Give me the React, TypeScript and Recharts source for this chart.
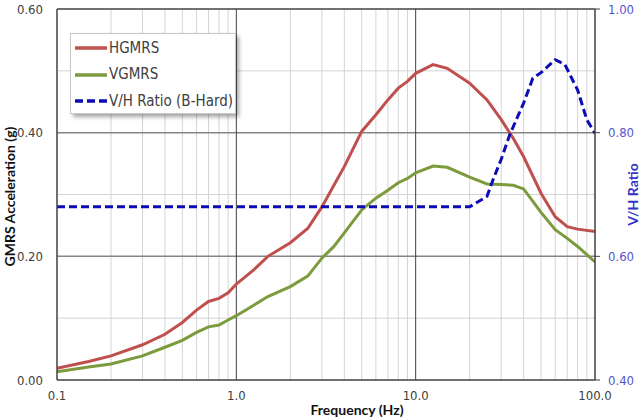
import React from 'react';
import { LineChart, Line, XAxis, YAxis, ReferenceLine, Legend, Label } from 'recharts';

// ---- data ----
const gmrsFreq = [0.1, 0.15, 0.2, 0.3, 0.4, 0.5, 0.6, 0.7, 0.8, 0.9, 1.0, 1.25, 1.5, 2.0, 2.5, 3.0, 3.5, 4.0, 5.0, 6.0, 7.0, 8.0, 9.0, 10, 12.5, 15, 20, 25, 30, 35, 40, 50, 60, 70, 80, 100];
const hgmrs = [0.019, 0.030, 0.039, 0.057, 0.074, 0.093, 0.113, 0.127, 0.132, 0.141, 0.155, 0.178, 0.200, 0.222, 0.245, 0.280, 0.315, 0.345, 0.402, 0.429, 0.453, 0.472, 0.483, 0.496, 0.510, 0.504, 0.480, 0.453, 0.421, 0.391, 0.361, 0.302, 0.264, 0.248, 0.244, 0.240];
const vgmrs = [0.0135, 0.021, 0.026, 0.039, 0.053, 0.064, 0.077, 0.086, 0.089, 0.097, 0.104, 0.121, 0.135, 0.151, 0.168, 0.197, 0.216, 0.238, 0.275, 0.294, 0.307, 0.319, 0.326, 0.335, 0.346, 0.344, 0.328, 0.317, 0.316, 0.315, 0.309, 0.271, 0.243, 0.229, 0.216, 0.191];
const ratioFreq = [0.1, 20, 25, 27, 30, 33.5, 40, 45, 50, 60, 68, 80, 90, 100];
const vhRatio = [0.68, 0.68, 0.697, 0.724, 0.757, 0.797, 0.848, 0.888, 0.897, 0.918, 0.910, 0.869, 0.821, 0.799];

const xTicks = [0.1, 1, 10, 100];
const xTickLabels = ['0.1', '1.0', '10.0', '100.0'];
const xMinor = [0.2, 0.3, 0.4, 0.5, 0.6, 0.7, 0.8, 0.9, 2, 3, 4, 5, 6, 7, 8, 9, 20, 30, 40, 50, 60, 70, 80, 90];
const yLeftTicks = [0, 0.2, 0.4, 0.6];
const yLeftMinor = [0.1, 0.3, 0.5];
const yRightTicks = [0.4, 0.6, 0.8, 1.0];

const seriesNames = ['HGMRS', 'VGMRS', 'V/H Ratio (B-Hard)'];
const seriesColors = ['#c0504d', '#7b9b3d', '#0c0cb4'];
const seriesDash = ['', '', '8 4'];

const hData = gmrsFreq.map((f, i) => ({ f, v: hgmrs[i] }));
const vData = gmrsFreq.map((f, i) => ({ f, v: vgmrs[i] }));
const rData = ratioFreq.map((f, i) => ({ f, v: vhRatio[i] }));

const tickFont = "'DejaVu Sans Condensed', 'DejaVu Sans', sans-serif";
const titleFont = "Lato, 'Open Sans', sans-serif";

const LegendBox = () => (
  <div
    style={{
      width: 166,
      height: 81,
      boxSizing: 'border-box',
      background: '#fff',
      border: '1px solid #c8c8c8',
      boxShadow: '3px 3px 4px rgba(0,0,0,0.35)',
      paddingTop: 1,
    }}
  >
    {seriesNames.map((name, i) => (
      <div key={name} style={{ display: 'flex', alignItems: 'center', height: 26.5 }}>
        <svg width={38} height={8} style={{ display: 'block' }}>
          <line x1={4} y1={4} x2={36} y2={4} stroke={seriesColors[i]} strokeWidth={3.5} strokeDasharray={seriesDash[i] || undefined} />
        </svg>
        <span style={{ fontFamily: tickFont, fontStretch: 'condensed', fontSize: 15, color: '#404040', lineHeight: '15px' }}>{name}</span>
      </div>
    ))}
  </div>
);

export default function App() {
  return (
    <div style={{ position: 'absolute', left: 0, top: 0, width: 644, height: 420, background: '#fff' }}>
      <LineChart width={644} height={420} margin={{ top: 9, right: 0, bottom: 0, left: 0 }}>
        <XAxis
          type="number"
          dataKey="f"
          scale="log"
          domain={[0.1, 100]}
          allowDataOverflow
          ticks={xTicks}
          tickFormatter={(v: number) => xTickLabels[xTicks.indexOf(v)] ?? String(v)}
          height={40}
          tickLine={false}
          tickSize={5}
          tickMargin={6}
          axisLine={{ stroke: '#404040', strokeWidth: 1.5 }}
          tick={{ fill: '#404040', fontSize: 13, fontFamily: tickFont, fontStretch: 'condensed' }}
        >
          <Label
            content={(props: any) => {
              const vb = props.viewBox || { x: 57, y: 380, width: 538, height: 40 };
              return (
                <text x={vb.x + vb.width / 2 + 31} y={vb.y + vb.height - 5} textAnchor="middle" fontFamily={titleFont} fontWeight="bold" fontSize={14} fill="#111">
                  Frequency (Hz)
                </text>
              );
            }}
          />
        </XAxis>
        <YAxis
          yAxisId="left"
          type="number"
          domain={[0, 0.6]}
          ticks={yLeftTicks}
          tickFormatter={(v: number) => v.toFixed(2)}
          width={57}
          tickLine={false}
          tickSize={5}
          tickMargin={9}
          axisLine={{ stroke: '#404040', strokeWidth: 1.5 }}
          tick={{ fill: '#404040', fontSize: 13, fontFamily: tickFont, fontStretch: 'condensed' }}
        >
          <Label
            content={(props: any) => {
              const vb = props.viewBox || { x: 0, y: 9, width: 57, height: 371 };
              const cx = 9.5;
              const cy = vb.y + vb.height / 2 + 2;
              return (
                <text x={cx} y={cy} transform={`rotate(-90 ${cx} ${cy})`} textAnchor="middle" dominantBaseline="central" fontFamily={titleFont} fontWeight="bold" fontSize={14} fill="#111">
                  GMRS Acceleration (g)
                </text>
              );
            }}
          />
        </YAxis>
        <YAxis
          yAxisId="right"
          orientation="right"
          type="number"
          domain={[0.4, 1.0]}
          ticks={yRightTicks}
          tickFormatter={(v: number) => v.toFixed(2)}
          width={49}
          tickLine={{ stroke: '#404040' }}
          tickSize={5}
          tickMargin={8}
          axisLine={{ stroke: '#404040', strokeWidth: 1.5 }}
          tick={{ fill: '#5555cc', fontSize: 13, fontFamily: tickFont, fontStretch: 'condensed' }}
        >
          <Label
            content={(props: any) => {
              const vb = props.viewBox || { x: 595, y: 9, width: 49, height: 371 };
              const cx = 632;
              const cy = vb.y + vb.height / 2;
              return (
                <text x={cx} y={cy} transform={`rotate(-90 ${cx} ${cy})`} textAnchor="middle" dominantBaseline="central" fontFamily={titleFont} fontWeight="bold" fontSize={14} fill="#3333cc">
                  V/H Ratio
                </text>
              );
            }}
          />
        </YAxis>

        {xMinor.map((x) => (
          <ReferenceLine key={'xm' + x} x={x} yAxisId="left" stroke="#d4d4d4" strokeWidth={1} />
        ))}
        {yLeftMinor.map((y) => (
          <ReferenceLine key={'ym' + y} y={y} yAxisId="left" stroke="#d4d4d4" strokeWidth={1} />
        ))}
        {yLeftTicks.slice(1, 3).map((y) => (
          <ReferenceLine key={'yM' + y} y={y} yAxisId="left" stroke="#858585" strokeWidth={1.5} />
        ))}
        <ReferenceLine y={0.6} yAxisId="left" stroke="#404040" strokeWidth={1.5} />
        {xTicks.slice(1, 3).map((x) => (
          <ReferenceLine key={'xM' + x} x={x} yAxisId="left" stroke="#404040" strokeWidth={1} />
        ))}

        <Line data={hData} dataKey="v" yAxisId="left" name={seriesNames[0]} type="linear" stroke={seriesColors[0]} strokeWidth={3} dot={false} isAnimationActive={false} />
        <Line data={vData} dataKey="v" yAxisId="left" name={seriesNames[1]} type="linear" stroke={seriesColors[1]} strokeWidth={3} dot={false} isAnimationActive={false} />
        <Line data={rData} dataKey="v" yAxisId="right" name={seriesNames[2]} type="linear" stroke={seriesColors[2]} strokeWidth={3} strokeDasharray={seriesDash[2]} dot={false} isAnimationActive={false} />

        <Legend
          layout="vertical"
          align="center"
          verticalAlign="middle"
          content={() => <LegendBox />}
          wrapperStyle={{ position: 'absolute', left: 70, top: 33, width: 166, height: 81 }}
        />
      </LineChart>
    </div>
  );
}
